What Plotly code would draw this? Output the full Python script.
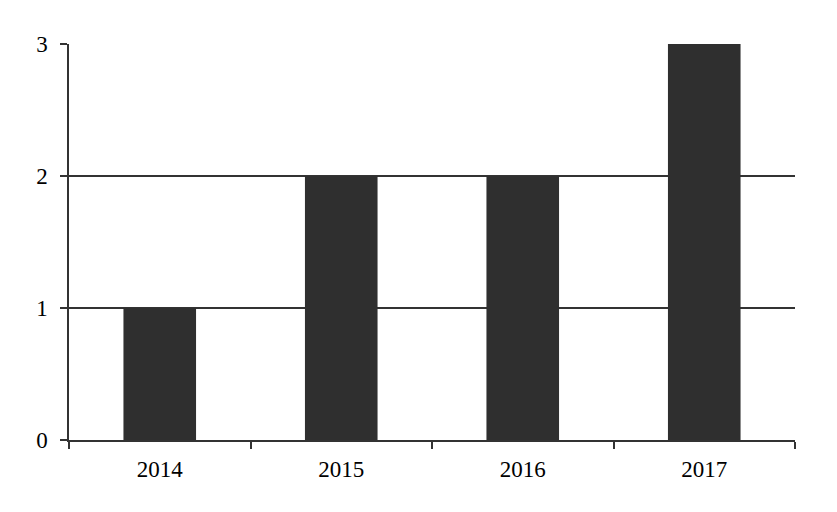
import plotly.graph_objects as go

years = ["2014", "2015", "2016", "2017"]
counts = [1, 2, 2, 3]
y_ticks = [0, 1, 2, 3]

fig = go.Figure(go.Bar(x=years, y=counts, width=0.4, marker=dict(color="#2f2f2f", line=dict(width=0))))

fig.update_layout(
    width=837, height=512,
    margin=dict(l=61, r=50, t=36, b=80, autoexpand=False),
    paper_bgcolor="white", plot_bgcolor="white",
    showlegend=False,
    font=dict(family="Liberation Serif, DejaVu Serif, serif", size=23, color="#000"),
)
fig.update_xaxes(
    type="category", range=[-0.5, 3.5], tickson="boundaries",
    ticks="outside", ticklen=7, tickwidth=1.5, tickcolor="#333",
    showline=True, linecolor="#333", linewidth=1.5,
    showgrid=False, tickfont=dict(size=23), ticklabelstandoff=8,
)
fig.update_yaxes(
    range=[0, 3], tickvals=y_ticks, ticktext=[str(v) for v in y_ticks],
    ticks="outside", ticklen=7, tickwidth=1.5, tickcolor="#333",
    showline=True, linecolor="#333", linewidth=1.5,
    showgrid=True, gridcolor="#333", gridwidth=1.5,
    zeroline=False, tickfont=dict(size=23), layer="below traces",
    ticklabelstandoff=8,
)
fig.write_html("out.html")
